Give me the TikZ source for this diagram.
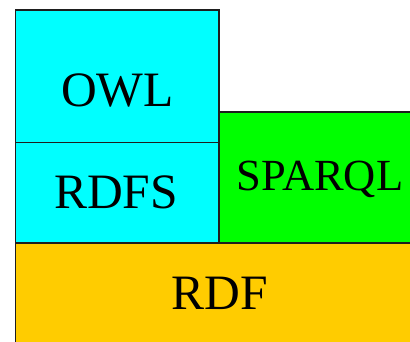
\documentclass[tikz,border=0pt]{standalone}
\usepackage{fontspec}
\setmainfont{Liberation Serif}
\definecolor{owlcyan}{RGB}{0,255,255}
\definecolor{sparqlgreen}{RGB}{0,255,0}
\definecolor{rdfgold}{RGB}{255,204,0}
\definecolor{edge}{RGB}{30,30,30}
\tikzset{
  layer/.style={draw=edge, line width=1.2pt},
  big/.style={font=\fontsize{49.5}{58}\selectfont, inner sep=0pt, anchor=base},
  mid/.style={font=\fontsize{44.5}{52}\selectfont, inner sep=0pt, anchor=base},
}
\begin{document}
\begin{tikzpicture}[x=1pt,y=-1pt]
\useasboundingbox (0,0) rectangle (410,342);
\clip (0,0) rectangle (410,342);
\filldraw[layer, fill=rdfgold] (15.5,243) rectangle (425,350);
\filldraw[layer, fill=sparqlgreen] (219,112) rectangle (425,243);
\filldraw[layer, fill=owlcyan] (15.5,142.5) rectangle (219,243);
\filldraw[layer, fill=owlcyan] (15.5,10) rectangle (219,142.5);
\node[big] (owl) at (117.5,106.5) {OWL};
\node[big] (rdfs) at (116,208) {RDFS};
\node[mid] (sparql) at (320,190.5) {SPARQL};
\node[big] (rdf) at (219.5,309.5) {RDF};
\end{tikzpicture}
\end{document}
